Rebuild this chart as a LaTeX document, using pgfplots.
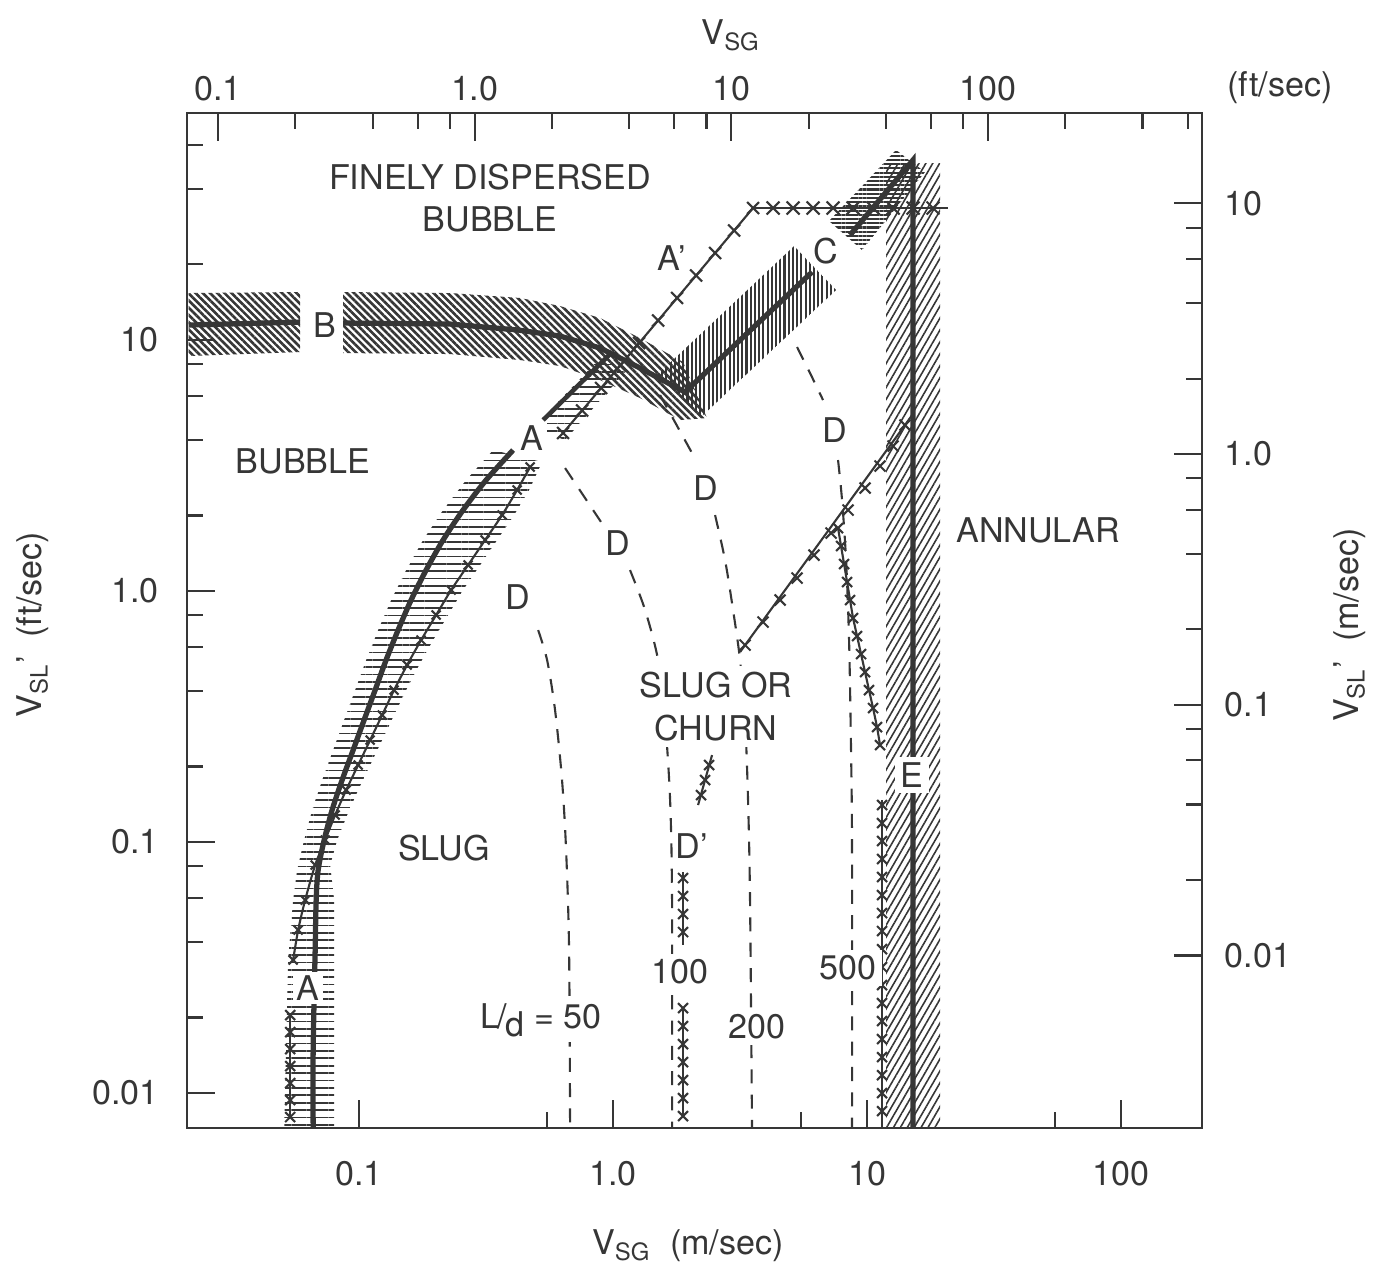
\documentclass[border=0pt]{standalone}
\usepackage{pgfplots}
\pgfplotsset{compat=1.18}
\usetikzlibrary{patterns.meta}
\usepackage{fontspec}
\setmainfont{TeX Gyre Heros}
\setsansfont{TeX Gyre Heros}
\definecolor{ink}{HTML}{363636}
\newcommand{\fnt}{\fontsize{9.7pt}{11.6pt}\selectfont}
\begin{document}
\begin{tikzpicture}[font=\fnt, text=ink]
\path[use as bounding box] (0,0) rectangle (13.75,-12.65);
% ---------- ft/sec axis (top and left) ----------
\begin{axis}[
  at={(1.87cm,-11.28cm)}, anchor=south west, scale only axis,
  width=10.15cm, height=10.15cm,
  xmode=log, ymode=log,
  xmin=0.0757, xmax=682, ymin=0.007255, ymax=80.25,
  xtick pos=right, xticklabel pos=right,
  ytick pos=left, yticklabel pos=left,
  xtick={0.1,1,10,100}, xticklabels={0.1,1.0,10,100},
  ytick={0.01,0.1,1,10}, yticklabels={0.01,0.1,1.0,10},
  minor xtick={0.2,0.4,0.6,0.8,2,4,6,8,20,40,60,80,200,400,600},
  minor ytick={0.02,0.04,0.06,0.08,0.2,0.4,0.6,0.8,2,4,6,8,20,40,60},
  major tick length=0.28cm, minor tick length=0.16cm,
  tick style={draw=ink, line width=0.6pt},
  axis line style={draw=ink, line width=0.7pt},
  tick label style={font=\fnt, text=ink},
  yticklabel style={xshift=-4.5pt},
  /pgf/number format/assume math mode=true,
]
\end{axis}
% ---------- m/sec axis (bottom and right) with the data ----------
\begin{axis}[
  at={(1.87cm,-11.28cm)}, anchor=south west, scale only axis,
  width=10.15cm, height=10.15cm,
  xmode=log, ymode=log,
  xmin=0.0210, xmax=208.4, ymin=0.00205, ymax=22.92,
  xtick pos=left, xticklabel pos=left,
  ytick pos=right, yticklabel pos=right,
  xtick={0.1,1,10,100}, xticklabels={0.1,1.0,10,100},
  ytick={0.01,0.1,1,10}, yticklabels={0.01,0.1,1.0,10},
  minor xtick={0.55,5.5,55},
  minor ytick={0.02,0.04,0.06,0.08,0.2,0.4,0.6,0.8,2,4,6,8},
  major tick length=0.28cm, minor tick length=0.16cm,
  tick style={draw=ink, line width=0.6pt},
  axis line style={draw=ink, line width=0.7pt},
  tick label style={font=\fnt, text=ink},
  xticklabel style={yshift=-6pt},
  yticklabel style={xshift=3pt},
  /pgf/number format/assume math mode=true,
]
% ----- hatched bands -----
% B, left part
\addplot[draw=none, pattern={Lines[angle=-45,distance=1.45pt,line width=0.75pt]}, pattern color=ink]
  coordinates {(0.0213,4.387) (0.05859,4.428) (0.05859,2.551) (0.0213,2.459)} -- cycle;
% B, right part
\addplot[draw=none, pattern={Lines[angle=-45,distance=1.45pt,line width=0.75pt]}, pattern color=ink]
  coordinates {(0.0865,4.428) (0.2282,4.387) (0.4305,4.192) (0.6182,3.894) (0.8888,3.487) (1.277,2.901) (1.886,2.328) (2.344,1.392) (1.836,1.366) (1.277,1.673) (0.8888,1.973) (0.6182,2.244) (0.4305,2.371) (0.2282,2.505) (0.0865,2.528)} -- cycle;
% rising band towards C
\addplot[draw=none, pattern={Lines[angle=90,distance=1.2pt,line width=0.6pt]}, pattern color=ink]
  coordinates {(1.518,2.104) (5.159,6.755) (7.551,4.510) (2.220,1.405)} -- cycle;
% C band near top
\addplot[draw=none, pattern={Lines[angle=0,distance=1.2pt,line width=0.6pt]}, pattern color=ink]
  coordinates {(7.086,8.500) (13.01,16.32) (16.91,13.33) (9.557,6.513)} -- cycle;
% annular band
\addplot[draw=none, pattern={Lines[angle=60,distance=1.7pt,line width=0.45pt]}, pattern color=ink]
  coordinates {(11.9,14.48) (19.39,14.48) (19.39,0.00205) (11.9,0.00205)} -- cycle;
% A band (bubble-slug)
\addplot[draw=none, pattern={Lines[angle=0,distance=2.1pt,line width=0.5pt]}, pattern color=ink]
  coordinates {(0.0507,0.00205) (0.05254,0.00959) (0.05497,0.01663) (0.0570,0.02191) (0.06076,0.02886) (0.06531,0.03802) (0.07152,0.05007) (0.07902,0.06596) (0.08727,0.08689) (0.09645,0.1144) (0.1066,0.1508) (0.1188,0.1986) (0.1337,0.2616) (0.1531,0.3445) (0.1786,0.4539) (0.2141,0.5977) (0.2638,0.7874) (0.3371,1.037) (0.5254,0.9292) (0.4670,0.7186) (0.4076,0.571) (0.3494,0.4539) (0.2995,0.3607) (0.2566,0.2868) (0.2241,0.2279) (0.1956,0.1811) (0.1723,0.1440) (0.1531,0.1144) (0.1373,0.09097) (0.1232,0.07229) (0.1105,0.05747) (0.0991,0.04568) (0.08971,0.03631) (0.08194,0.02886) (0.07691,0.02294) (0.07975,0.01663) (0.07975,0.00205)} -- cycle;
% A band, upper piece
\addplot[draw=none, pattern={Lines[angle=0,distance=2.1pt,line width=0.5pt]}, pattern color=ink]
  coordinates {(0.4842,1.270) (0.8888,2.415) (1.115,2.124) (0.6471,1.137)} -- cycle;
% ----- solid boundaries -----
\addplot[ink, line width=1.5pt] coordinates {(15.18,0.00205) (15.18,14.89) (8.573,7.474)};
\addplot[ink, line width=1.5pt] coordinates {(0.0213,3.27) (0.05859,3.36)};
\addplot[ink, line width=1.5pt] coordinates {(0.0865,3.331) (0.2282,3.300) (0.4227,3.123) (0.6182,2.955) (0.8888,2.647) (1.277,2.203) (1.920,1.767) (6.075,5.321)};
\addplot[ink, line width=1.5pt, smooth] coordinates {(0.06592,0.00205) (0.06592,0.004195) (0.06713,0.01051) (0.06774,0.01663) (0.06898,0.02191) (0.07284,0.02886) (0.07827,0.03802) (0.0857,0.05007) (0.09471,0.06596) (0.1046,0.08689) (0.1156,0.1144) (0.1277,0.1508) (0.1424,0.1986) (0.1602,0.2616) (0.1836,0.3445) (0.2141,0.4539) (0.2566,0.5977) (0.3162,0.7874) (0.4039,1.037)};
\addplot[ink, line width=1.3pt] coordinates {(0.5303,1.366) (0.991,2.551)};
% ----- lines with crosses -----
\addplot[ink, line width=0.6pt, mark=x, mark size=1.8pt, smooth, mark options={solid}] coordinates {(0.4713,0.8874) (0.4188,0.7186) (0.3656,0.571) (0.3134,0.4539) (0.2686,0.3607) (0.2303,0.2868) (0.2010,0.2279) (0.1754,0.1811) (0.1545,0.1440) (0.1373,0.1144) (0.1232,0.09097) (0.1105,0.07229) (0.0991,0.05747) (0.0889,0.04568) (0.08044,0.03631) (0.07349,0.02886) (0.06713,0.02294) (0.06131,0.01663) (0.05753,0.01263) (0.05497,0.00959)};
\addplot[ink, line width=0.6pt, mark=x, mark size=2pt] coordinates {(0.05352,0.005784) (0.05352,0.004948) (0.05352,0.004232) (0.05352,0.003621) (0.05352,0.003097) (0.05352,0.002649) (0.05352,0.002267)};
\addplot[ink, line width=0.6pt, mark=x, mark size=2.4pt] coordinates {(0.6352,1.213) (0.7551,1.491) (0.897,1.834) (1.066,2.254) (1.266,2.771) (1.504,3.408) (1.786,4.192) (2.122,5.153) (2.521,6.337) (2.995,7.790) (3.558,9.578)};
\addplot[ink, line width=0.6pt] coordinates {(3.558,9.578) (20.84,9.578)};
\addplot[ink, only marks, mark=x, mark size=2.6pt, mark options={line width=0.6pt}] coordinates {(4.265,9.578) (5.113,9.578) (6.131,9.578) (7.347,9.578) (8.808,9.578) (10.56,9.578) (12.66,9.578) (15.18,9.578) (18.19,9.578)};
% D' column
\addplot[ink, line width=0.6pt, mark=x, mark size=2pt] coordinates {(1.886,0.006169) (1.886,0.005230) (1.886,0.004431) (1.886,0.003756) (1.886,0.003184) (1.886,0.002699) (1.886,0.002288)};
\addplot[ink, line width=0.6pt] coordinates {(1.886,0.02151) (1.886,0.0110)};
\addplot[ink, only marks, mark=x, mark size=2pt, mark options={line width=0.6pt}] coordinates {(1.886,0.02036) (1.886,0.01726) (1.886,0.01463) (1.886,0.01240)};
\addplot[ink, line width=0.6pt] coordinates {(2.161,0.03981) (2.453,0.063)};
\addplot[ink, only marks, mark=x, mark size=2pt, mark options={line width=0.6pt}] coordinates {(2.220,0.04363) (2.303,0.05007) (2.388,0.05747)};
% E column
\addplot[ink, line width=0.6pt] coordinates {(11.46,0.04168) (11.46,0.00205)};
\addplot[ink, only marks, mark=x, mark size=2pt, mark options={line width=0.6pt}] coordinates {(11.46,0.03981) (11.46,0.03373) (11.46,0.02860) (11.46,0.02424) (11.46,0.02055) (11.46,0.01741) (11.46,0.01476) (11.46,0.01251) (11.46,0.01060) (11.46,0.008989) (11.46,0.007618) (11.46,0.006457) (11.46,0.005473) (11.46,0.004639) (11.46,0.003932) (11.46,0.003332) (11.46,0.002825) (11.46,0.002394)};
\addplot[ink, line width=0.6pt, mark=x, mark size=2pt] coordinates {(11.25,0.06906) (10.95,0.08147) (10.56,0.09701) (10.18,0.1144) (9.820,0.1350) (9.471,0.1593) (9.134,0.1879) (8.808,0.2217) (8.573,0.2616) (8.344,0.3086) (8.120,0.3641) (7.902,0.4296) (7.689,0.5067)};
\addplot[ink, line width=0.6pt] coordinates {(3.162,0.1623) (14.77,1.392)};
\addplot[ink, only marks, mark=x, mark size=2.2pt, mark options={line width=0.6pt}] coordinates {(3.309,0.1730) (3.896,0.2137) (4.545,0.2616) (5.302,0.3201) (6.183,0.3955) (7.216,0.484) (8.420,0.5977) (9.820,0.7319) (11.25,0.8957) (12.66,1.076) (14.11,1.305)};
% ----- dashed L/d curves -----
\addplot[ink, line width=0.6pt, dash pattern=on 4pt off 3.2pt, smooth] coordinates {(0.5068,0.1986) (0.5497,0.1508) (0.5909,0.09525) (0.6295,0.05007) (0.6531,0.02633) (0.6711,0.01051) (0.6772,0.00205)};
\addplot[ink, line width=0.6pt, dash pattern=on 4pt off 3.2pt] coordinates {(0.6471,0.8794) (0.9133,0.5208)};
\addplot[ink, line width=0.6pt, dash pattern=on 4pt off 3.2pt, smooth] coordinates {(1.166,0.3445) (1.337,0.2386) (1.504,0.1508) (1.602,0.08689) (1.677,0.04168) (1.707,0.01663) (1.707,0.00205)};
\addplot[ink, line width=0.6pt, dash pattern=on 4pt off 3.2pt] coordinates {(1.531,1.719) (1.770,1.317) (2.046,1.009)};
\addplot[ink, line width=0.6pt, dash pattern=on 4pt off 3.2pt, smooth] coordinates {(2.521,0.571) (2.760,0.3777) (2.968,0.2386) (3.162,0.1508) (3.309,0.08689) (3.400,0.04168) (3.462,0.01663) (3.525,0.00205)};
\addplot[ink, line width=0.6pt, dash pattern=on 4pt off 3.2pt] coordinates {(5.302,2.672) (5.965,2.104) (6.711,1.642)};
\addplot[ink, line width=0.6pt, dash pattern=on 4pt off 3.2pt, smooth] coordinates {(7.689,0.9464) (7.974,0.6555) (8.269,0.3777) (8.496,0.1811) (8.650,0.06596) (8.728,0.02633) (8.728,0.00205)};
\end{axis}
% ---------- region and curve labels ----------
\node at (4.90,-1.77) {FINELY DISPERSED};
\node at (4.90,-2.19) {BUBBLE};
\node at (6.72,-2.58) {A’};
\node at (8.26,-2.51) {C};
\node at (3.25,-3.25) {B};
\node[fill=white, inner sep=1pt] at (5.32,-4.38) {A};
\node at (3.03,-4.61) {BUBBLE};
\node[fill=white, inner sep=1.5pt] at (7.06,-4.88) {D};
\node[fill=white, inner sep=1.5pt] at (8.35,-4.30) {D};
\node at (10.38,-5.30) {ANNULAR};
\node[fill=white, inner sep=1.5pt] at (6.18,-5.43) {D};
\node[fill=white, inner sep=1.5pt] at (5.18,-5.97) {D};
\node[fill=white, inner sep=1.5pt, align=center] at (7.16,-7.065) {SLUG OR\\[0.8pt]CHURN};
\node at (4.44,-8.48) {SLUG};
\node[fill=white, inner sep=1.5pt] at (9.12,-7.75) {E};
\node at (6.92,-8.46) {D’};
\node[fill=white, inner sep=1pt] at (3.08,-9.88) {A};
\node[fill=white, inner sep=1.5pt] at (6.80,-9.72) {100};
\node[fill=white, inner sep=1.5pt] at (8.48,-9.68) {500};
\node[fill=white, inner sep=1.5pt] at (5.41,-10.20) {L\kern-0.05em/\kern-0.05em\raisebox{-0.45ex}{d} = 50};
\node[fill=white, inner sep=1.5pt] at (7.57,-10.27) {200};
% ---------- axis titles ----------
\node at (7.31,-0.35) {V\textsubscript{SG}};
\node at (12.80,-0.88) {(ft/sec)};
\node at (6.88,-12.46) {V\textsubscript{SG}\ \ (m/sec)};
\node[rotate=90] at (0.33,-6.25) {V\textsubscript{SL}’\ \ (ft/sec)};
\node[rotate=90] at (13.50,-6.25) {V\textsubscript{SL}’\ \ (m/sec)};
\end{tikzpicture}
\end{document}
